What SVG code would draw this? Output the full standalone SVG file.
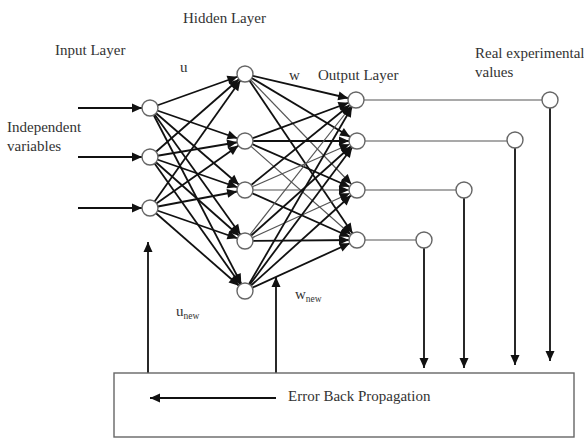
<svg xmlns="http://www.w3.org/2000/svg" width="584" height="439" viewBox="0 0 584 439">
<style>
.t{font-family:"Liberation Serif","Times New Roman",serif;font-size:15px;fill:#333}
.s{font-size:9.5px}
.c line{stroke:#111;stroke-width:1.8}
.c line.w{marker-end:url(#ac)}
.c line.p{marker-end:url(#ap)}
.thin{stroke:#555 !important;stroke-width:1.2 !important}
.n{fill:#fff;stroke:#666;stroke-width:1.4}
</style>
<defs>
<marker id="ac" markerUnits="userSpaceOnUse" markerWidth="12" markerHeight="10" refX="18" refY="4.5" orient="auto" overflow="visible"><path d="M0,0 L10,4.5 L0,9 z" fill="#111"/></marker>
<marker id="ap" markerUnits="userSpaceOnUse" markerWidth="12" markerHeight="10" refX="10" refY="4.5" orient="auto" overflow="visible"><path d="M0,0 L10,4.5 L0,9 z" fill="#111"/></marker>
</defs>
<rect width="584" height="439" fill="#fff"/>
<g id="connectors" class="c">
<line class="p" x1="78" y1="108" x2="142" y2="108"/>
<line class="p" x1="78" y1="157" x2="142" y2="157"/>
<line class="p" x1="78" y1="208" x2="142" y2="208"/>
<line class="w" x1="150" y1="108" x2="245" y2="74"/>
<line class="w" x1="150" y1="108" x2="245" y2="141"/>
<line class="w" x1="150" y1="108" x2="245" y2="190"/>
<line class="w" x1="150" y1="108" x2="245" y2="241"/>
<line class="w" x1="150" y1="108" x2="245" y2="291"/>
<line class="w" x1="150" y1="157" x2="245" y2="74"/>
<line class="w" x1="150" y1="157" x2="245" y2="141"/>
<line class="w" x1="150" y1="157" x2="245" y2="190"/>
<line class="w" x1="150" y1="157" x2="245" y2="241"/>
<line class="w" x1="150" y1="157" x2="245" y2="291"/>
<line class="w" x1="150" y1="208" x2="245" y2="74"/>
<line class="w" x1="150" y1="208" x2="245" y2="141"/>
<line class="w" x1="150" y1="208" x2="245" y2="190"/>
<line class="w" x1="150" y1="208" x2="245" y2="241"/>
<line class="w" x1="150" y1="208" x2="245" y2="291"/>
<line class="w" x1="245" y1="74" x2="356" y2="100"/>
<line class="w" x1="245" y1="74" x2="357" y2="141"/>
<line class="w thin" x1="245" y1="74" x2="357" y2="190"/>
<line class="w" x1="245" y1="74" x2="357" y2="240"/>
<line class="w" x1="245" y1="141" x2="356" y2="100"/>
<line class="w" x1="245" y1="141" x2="357" y2="141"/>
<line class="w" x1="245" y1="141" x2="357" y2="190"/>
<line class="w thin" x1="245" y1="141" x2="357" y2="240"/>
<line class="w" x1="245" y1="190" x2="356" y2="100"/>
<line class="w thin" x1="245" y1="190" x2="357" y2="141"/>
<line class="w thin" x1="245" y1="190" x2="357" y2="190"/>
<line class="w" x1="245" y1="190" x2="357" y2="240"/>
<line class="w thin" x1="245" y1="241" x2="356" y2="100"/>
<line class="w" x1="245" y1="241" x2="357" y2="141"/>
<line class="w thin" x1="245" y1="241" x2="357" y2="190"/>
<line class="w" x1="245" y1="241" x2="357" y2="240"/>
<line class="w" x1="245" y1="291" x2="356" y2="100"/>
<line class="w" x1="245" y1="291" x2="357" y2="141"/>
<line class="w" x1="245" y1="291" x2="357" y2="190"/>
<line class="w" x1="245" y1="291" x2="357" y2="240"/>
<line class="thin" x1="364" y1="100" x2="542" y2="100"/>
<line class="thin" x1="365" y1="141" x2="507" y2="141"/>
<line class="thin" x1="365" y1="190" x2="456" y2="190"/>
<line class="thin" x1="365" y1="240" x2="416" y2="240"/>
<line class="p" x1="550" y1="108" x2="550" y2="361"/>
<line class="p" x1="515" y1="148" x2="515" y2="365"/>
<line class="p" x1="464" y1="198" x2="464" y2="368"/>
<line class="p" x1="424" y1="248" x2="424" y2="368"/>
<line class="p" x1="148" y1="373" x2="148" y2="242"/>
<line class="p" x1="276" y1="373" x2="276" y2="277"/>
<line class="p" x1="276" y1="398" x2="150" y2="398"/>
</g>
<g id="input-layer">
<circle class="n" cx="150" cy="108" r="8"/>
<circle class="n" cx="150" cy="157" r="8"/>
<circle class="n" cx="150" cy="208" r="8"/>
</g>
<g id="hidden-layer">
<circle class="n" cx="245" cy="74" r="8"/>
<circle class="n" cx="245" cy="141" r="8"/>
<circle class="n" cx="245" cy="190" r="8"/>
<circle class="n" cx="245" cy="241" r="8"/>
<circle class="n" cx="245" cy="291" r="8"/>
</g>
<g id="output-layer">
<circle class="n" cx="356" cy="100" r="8"/>
<circle class="n" cx="357" cy="141" r="8"/>
<circle class="n" cx="357" cy="190" r="8"/>
<circle class="n" cx="357" cy="240" r="8"/>
</g>
<g id="real-values">
<circle class="n" cx="550" cy="100" r="8"/>
<circle class="n" cx="515" cy="140" r="8"/>
<circle class="n" cx="464" cy="190" r="8"/>
<circle class="n" cx="424" cy="240" r="8"/>
</g>
<g id="error-box">
<rect x="114" y="373" width="460" height="64" fill="none" stroke="#666" stroke-width="1.4"/>
<text class="t" x="288" y="401">Error Back Propagation</text>
</g>
<g id="labels">
<text class="t" x="183" y="23">Hidden Layer</text>
<text class="t" x="55" y="55">Input Layer</text>
<text class="t" x="180" y="72">u</text>
<text class="t" x="289" y="80">w</text>
<text class="t" x="318" y="80">Output Layer</text>
<text class="t" x="475" y="58">Real experimental</text>
<text class="t" x="475" y="77">values</text>
<text class="t" x="7" y="132">Independent</text>
<text class="t" x="7" y="151">variables</text>
<text class="t" x="176" y="316">u<tspan class="s" dy="3">new</tspan></text>
<text class="t" x="295" y="299">w<tspan class="s" dy="3">new</tspan></text>
</g>
</svg>
